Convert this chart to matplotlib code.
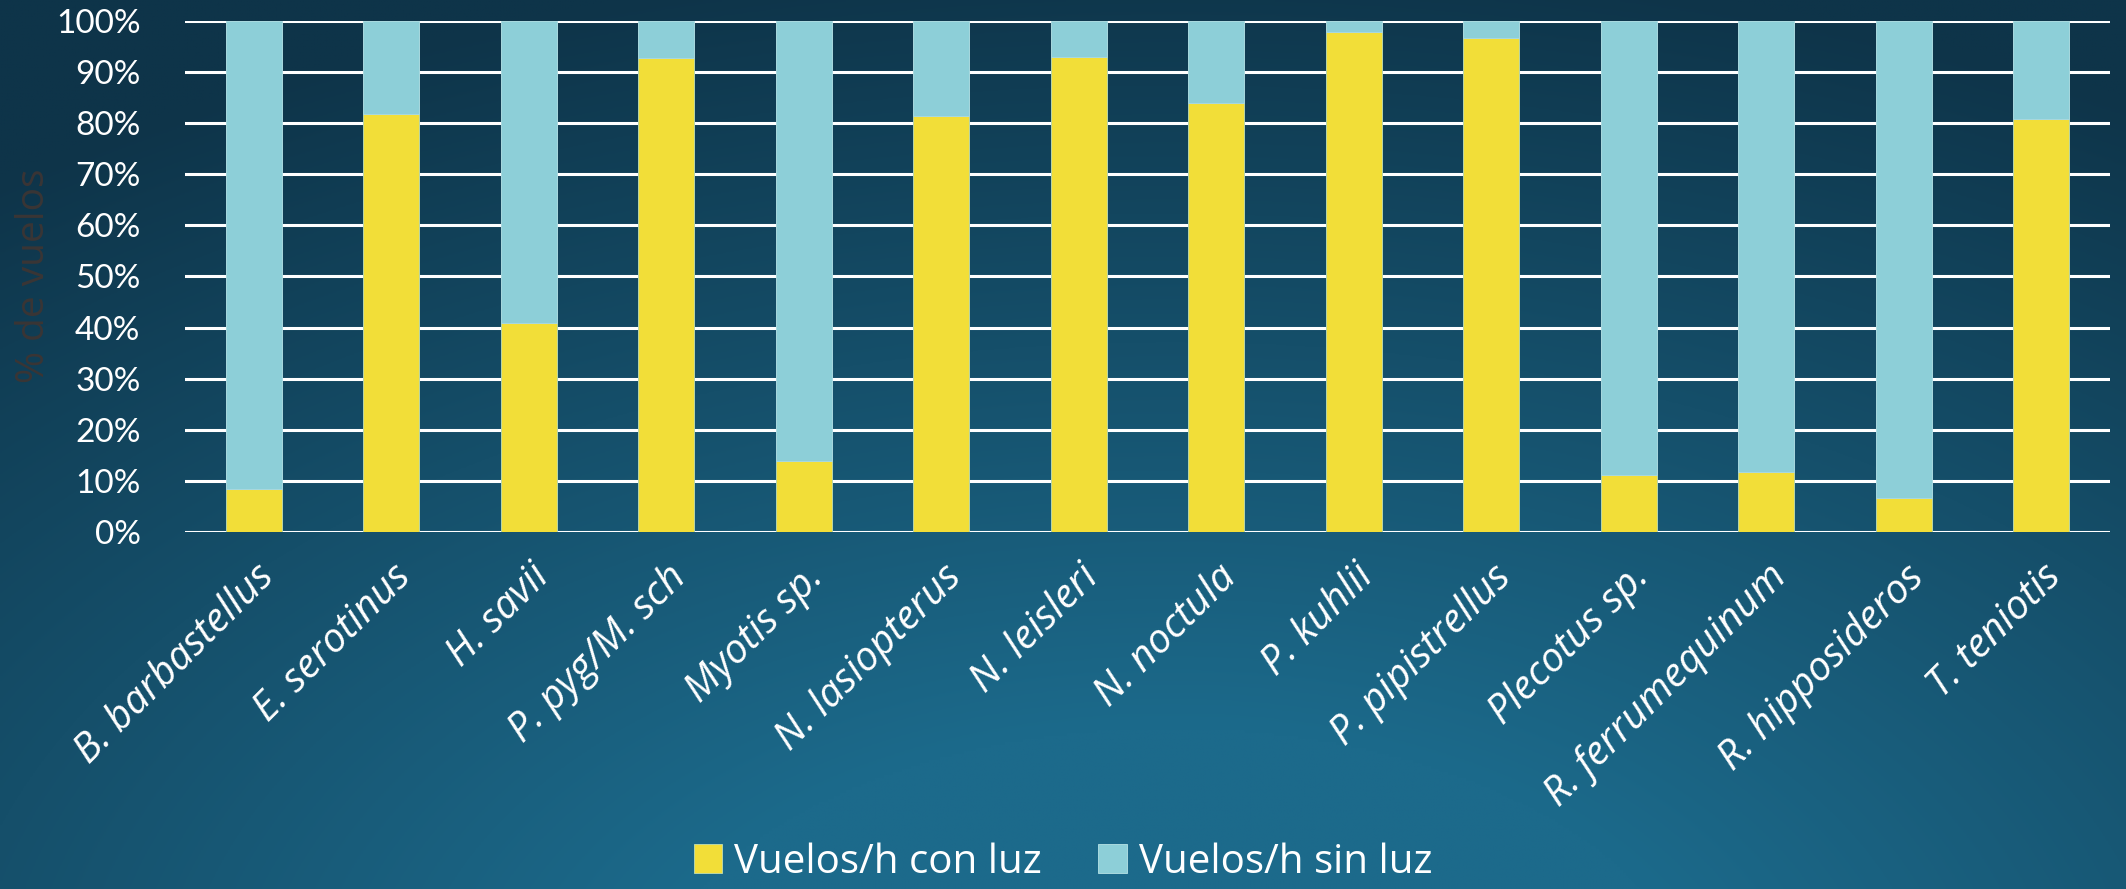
import numpy as np
import matplotlib
matplotlib.use("Agg")
import matplotlib.pyplot as plt
from matplotlib.colors import to_rgb

especies = ["B. barbastellus", "E. serotinus", "H. savii", "P. pyg/M. sch",
            "Myotis sp.", "N. lasiopterus", "N. leisleri", "N. noctula",
            "P. kuhlii", "P. pipistrellus", "Plecotus sp.", "R. ferrumequinum",
            "R. hipposideros", "T. teniotis"]
con_luz = [8.4, 81.8, 40.9, 92.8, 13.8, 81.5, 92.9, 83.9, 97.9, 96.7, 11.2, 11.7, 6.6, 80.8]
sin_luz = [100 - v for v in con_luz]
yticks = list(range(0, 101, 10))

amarillo = "#F2DE38"
celeste = "#8DCFD8"

fig = plt.figure(figsize=(21.26, 8.89), dpi=100)

# fondo degradado (esquinas oscuras, mas claro abajo en el centro)
bg = fig.add_axes([0, 0, 1, 1], zorder=-10)
h, w = 300, 720
yy, xx = np.mgrid[0:h, 0:w]
xx = xx / w
yy = yy / h
d = np.sqrt(((xx - 0.55) * 1.0) ** 2 + ((yy - 1.15) * 0.75) ** 2)
t = np.clip((d - 0.25) / 0.65, 0, 1)[..., None]
claro = np.array(to_rgb("#1C6A8B"))
oscuro = np.array(to_rgb("#0E3449"))
img = claro * (1 - t) + oscuro * t
bg.imshow(img, aspect="auto", extent=[0, 1, 0, 1], origin="upper")
bg.axis("off")

ax = fig.add_axes([0.087, 0.4016, 0.9055, 0.5748])
ax.set_facecolor("none")
x = np.arange(len(especies))
ax.bar(x, con_luz, 0.41, color=amarillo, edgecolor="#b9d6a6", linewidth=0.7,
       label="Vuelos/h con luz", zorder=3)
ax.bar(x, sin_luz, 0.41, bottom=con_luz, color=celeste, edgecolor="#a9d9df",
       linewidth=0.7, label="Vuelos/h sin luz", zorder=3)

ax.set_xlim(-0.5, len(especies) - 0.5)
ax.set_ylim(0, 100)
ax.set_yticks(yticks)
ax.set_yticklabels([f"{v}%" for v in yticks], fontsize=24, color="white",
                   family="Lato")
ax.set_xticks(x)
ax.set_xticklabels(especies, rotation=45, ha="right", rotation_mode="anchor",
                   fontsize=29, color="white", style="italic", family="Open Sans")
ax.tick_params(axis="both", length=0)
ax.tick_params(axis="y", pad=32)
ax.tick_params(axis="x", pad=18)
ax.grid(axis="y", color="white", linewidth=2.2, zorder=0)
for s in ax.spines.values():
    s.set_visible(False)

fig.text(0.016, 0.69, "% de vuelos", rotation=90, fontsize=28, color="#3a3535",
         family="Open Sans", ha="center", va="center")

leg = fig.legend(loc="center", bbox_to_anchor=(0.5, 0.03), ncol=2, frameon=False,
                 prop={"family": "Open Sans", "size": 29}, labelcolor="white",
                 handlelength=0.7, handleheight=0.7, handletextpad=0.3,
                 columnspacing=1.4)

fig.savefig("out.png", dpi=100)
